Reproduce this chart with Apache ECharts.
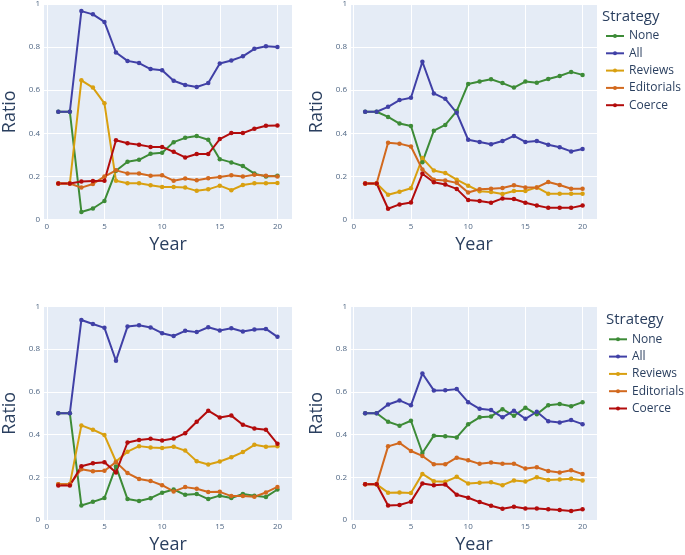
<!DOCTYPE html>
<html>
<head>
<meta charset="utf-8">
<script src="https://cdn.jsdelivr.net/npm/echarts@6/dist/echarts.min.js"></script>
<style>
html,body{margin:0;padding:0;background:#fff;}
#c{width:685px;height:555px;}
</style>
</head>
<body>
<div id="c"></div>
<script>
// ---- data ----
const years = [1,2,3,4,5,6,7,8,9,10,11,12,13,14,15,16,17,18,19,20];
const strategies = ['None','All','Reviews','Editorials','Coerce'];
const xTicks = [0,5,10,15,20];

// panel 1 (top-left)
const none1 = [0.5,0.5,0.035,0.051,0.086,0.226,0.268,0.277,0.305,0.31,0.359,0.379,0.387,0.37,0.28,0.265,0.248,0.213,0.2,0.203];
const all1  = [0.5,0.5,0.967,0.952,0.917,0.775,0.736,0.726,0.698,0.693,0.644,0.624,0.615,0.633,0.724,0.738,0.757,0.792,0.804,0.801];
const rev1  = [0.167,0.167,0.646,0.612,0.539,0.18,0.168,0.168,0.159,0.151,0.151,0.148,0.133,0.14,0.157,0.136,0.16,0.168,0.168,0.169];
const edi1  = [0.167,0.167,0.148,0.165,0.199,0.228,0.214,0.213,0.203,0.205,0.18,0.19,0.182,0.191,0.197,0.205,0.199,0.208,0.203,0.199];
const coe1  = [0.167,0.167,0.176,0.179,0.18,0.368,0.354,0.347,0.337,0.337,0.314,0.288,0.304,0.304,0.373,0.401,0.401,0.421,0.435,0.436];

// panel 2 (top-right)
const none2 = [0.5,0.5,0.476,0.445,0.434,0.266,0.412,0.439,0.503,0.629,0.64,0.651,0.633,0.612,0.64,0.635,0.652,0.666,0.685,0.671];
const all2  = [0.5,0.5,0.523,0.554,0.565,0.732,0.585,0.56,0.495,0.37,0.36,0.349,0.364,0.388,0.36,0.364,0.347,0.335,0.316,0.327];
const rev2  = [0.167,0.167,0.115,0.129,0.145,0.285,0.227,0.216,0.185,0.157,0.131,0.128,0.118,0.132,0.132,0.149,0.12,0.12,0.12,0.12];
const edi2  = [0.167,0.167,0.356,0.352,0.339,0.232,0.185,0.181,0.17,0.125,0.14,0.143,0.146,0.159,0.149,0.149,0.174,0.16,0.143,0.143];
const coe2  = [0.167,0.167,0.05,0.07,0.079,0.212,0.173,0.162,0.142,0.09,0.086,0.078,0.098,0.095,0.078,0.065,0.054,0.054,0.054,0.065];

// panel 3 (bottom-left)
const none3 = [0.5,0.5,0.068,0.085,0.103,0.251,0.098,0.089,0.102,0.128,0.143,0.118,0.122,0.098,0.114,0.103,0.122,0.114,0.108,0.143];
const all3  = [0.5,0.5,0.937,0.918,0.9,0.746,0.906,0.912,0.902,0.875,0.862,0.886,0.88,0.903,0.888,0.898,0.883,0.892,0.895,0.858];
const rev3  = [0.167,0.167,0.443,0.423,0.398,0.274,0.32,0.346,0.34,0.337,0.343,0.325,0.275,0.26,0.274,0.294,0.318,0.352,0.343,0.346];
const edi3  = [0.167,0.167,0.238,0.228,0.231,0.271,0.22,0.192,0.183,0.163,0.134,0.154,0.146,0.131,0.132,0.112,0.112,0.109,0.129,0.155];
const coe3  = [0.162,0.162,0.252,0.266,0.271,0.223,0.363,0.375,0.38,0.372,0.382,0.406,0.46,0.512,0.48,0.489,0.446,0.429,0.423,0.357];

// panel 4 (bottom-right)
const none4 = [0.5,0.5,0.46,0.442,0.465,0.314,0.395,0.392,0.387,0.448,0.481,0.485,0.519,0.488,0.526,0.495,0.538,0.543,0.533,0.552];
const all4  = [0.5,0.5,0.541,0.56,0.537,0.686,0.607,0.608,0.613,0.552,0.521,0.515,0.481,0.512,0.474,0.507,0.463,0.457,0.468,0.449];
const rev4  = [0.167,0.167,0.128,0.129,0.126,0.216,0.182,0.179,0.202,0.171,0.174,0.177,0.163,0.185,0.18,0.2,0.187,0.19,0.193,0.185];
const edi4  = [0.167,0.167,0.345,0.361,0.323,0.3,0.261,0.261,0.292,0.28,0.263,0.269,0.263,0.264,0.241,0.247,0.229,0.222,0.233,0.215];
const coe4  = [0.167,0.167,0.068,0.07,0.086,0.171,0.163,0.166,0.118,0.104,0.084,0.067,0.053,0.062,0.054,0.054,0.05,0.047,0.042,0.05];

const panels = [
  [none1, all1, rev1, edi1, coe1],
  [none2, all2, rev2, edi2, coe2],
  [none3, all3, rev3, edi3, coe3],
  [none4, all4, rev4, edi4, coe4]
];

// ---- styling ----
const colors = ['#3d8b37','#4040a6','#d9a010','#d2691e','#b30c0c'];
const FONT = '"Open Sans", "DejaVu Sans", sans-serif';
const titleColor = '#2a3f5f';
const tickColor = '#506784';

const grids = [
  {left:43, top:3.5, width:249, height:216},
  {left:351, top:3.5, width:246, height:216},
  {left:43, top:306.5, width:249, height:217},
  {left:351, top:306.5, width:246, height:217}
].map(g => Object.assign({show:true, backgroundColor:'#E5ECF6', borderWidth:0}, g));

const xAxes = grids.map((g,i) => ({
  type:'value', gridIndex:i, min:-0.24, max:21.26,
  name:'Year', nameLocation:'middle', nameGap:16,
  nameTextStyle:{fontFamily:FONT, fontSize:18, color:titleColor},
  axisLine:{show:false},
  axisTick:{show:false, customValues:xTicks},
  axisLabel:{customValues:xTicks, fontFamily:FONT, fontSize:8, color:tickColor, margin:3},
  splitLine:{show:true, lineStyle:{color:'#ffffff', width:1}}
}));

const yAxes = grids.map((g,i) => ({
  type:'value', gridIndex:i, min:0, max:1, interval:0.2,
  name:'Ratio', nameLocation:'middle', nameGap:25,
  nameTextStyle:{fontFamily:FONT, fontSize:18, color:titleColor},
  axisLine:{show:false},
  axisTick:{show:false},
  axisLabel:{fontFamily:FONT, fontSize:8, color:tickColor, margin:4},
  splitLine:{show:true, lineStyle:{color:'#ffffff', width:1}}
}));

const series = [];
panels.forEach((vals, pi) => {
  vals.forEach((arr, si) => {
    series.push({
      type:'line', name:strategies[si],
      xAxisIndex:pi, yAxisIndex:pi,
      data: years.map((y,k) => [y, arr[k]]),
      symbol:'circle', symbolSize:4.5, showSymbol:true,
      itemStyle:{color:colors[si]},
      lineStyle:{color:colors[si], width:2},
      emphasis:{disabled:true},
      animation:false
    });
  });
});

const legendCommon = {
  orient:'vertical', data:strategies, selectedMode:false,
  itemWidth:18, itemHeight:5, itemGap:3.3, padding:0,
  textStyle:{fontFamily:FONT, fontSize:12, color:titleColor, lineHeight:14}
};

const option = {
  color: colors,
  textStyle:{fontFamily:FONT},
  title:[
    {text:'Strategy', left:602, top:9, padding:0, textStyle:{fontFamily:FONT, fontSize:15, fontWeight:'normal', color:titleColor}},
    {text:'Strategy', left:606, top:312.5, padding:0, textStyle:{fontFamily:FONT, fontSize:15, fontWeight:'normal', color:titleColor}}
  ],
  legend:[
    Object.assign({left:605, top:29}, legendCommon),
    Object.assign({left:608, top:332.3}, legendCommon)
  ],
  grid: grids,
  xAxis: xAxes,
  yAxis: yAxes,
  series: series
};

const chart = echarts.init(document.getElementById('c'), null, {renderer:'canvas'});
chart.setOption(option);
</script>
</body>
</html>
